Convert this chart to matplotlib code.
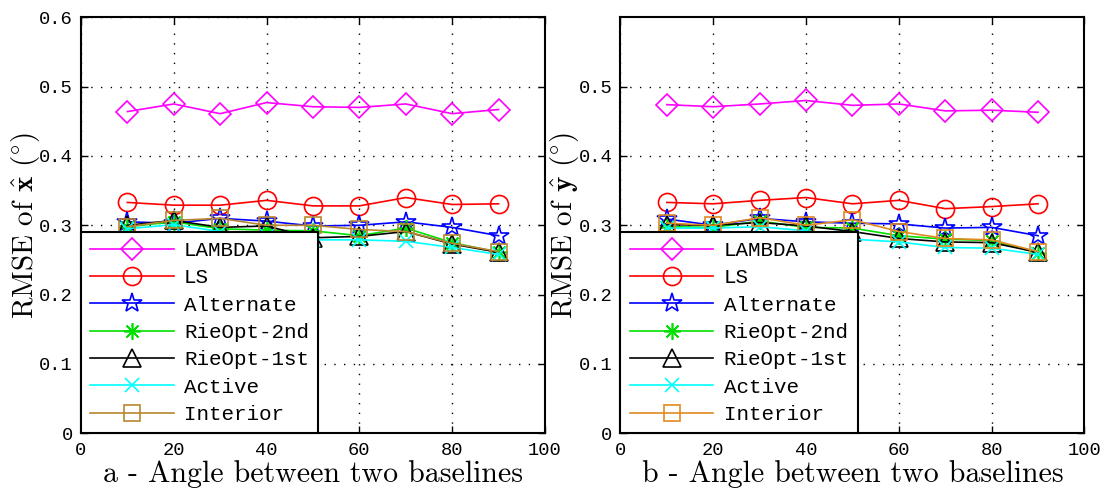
import matplotlib
matplotlib.use('Agg')
import matplotlib.pyplot as plt

plt.rcParams['mathtext.fontset'] = 'cm'

angles = [10, 20, 30, 40, 50, 60, 70, 80, 90]
methods = ['LAMBDA', 'LS', 'Alternate', 'RieOpt-2nd', 'RieOpt-1st', 'Active', 'Interior']

# panel a: RMSE of x-hat
rmse_x = {
    'LAMBDA':     [0.464, 0.475, 0.461, 0.477, 0.471, 0.470, 0.475, 0.461, 0.467],
    'LS':         [0.333, 0.329, 0.329, 0.336, 0.328, 0.328, 0.340, 0.330, 0.331],
    'Alternate':  [0.305, 0.303, 0.310, 0.306, 0.299, 0.300, 0.305, 0.297, 0.285],
    'RieOpt-2nd': [0.298, 0.305, 0.295, 0.293, 0.292, 0.285, 0.296, 0.275, 0.261],
    'RieOpt-1st': [0.300, 0.307, 0.297, 0.299, 0.282, 0.284, 0.291, 0.273, 0.261],
    'Active':     [0.295, 0.301, 0.291, 0.285, 0.279, 0.279, 0.277, 0.268, 0.258],
    'Interior':   [0.298, 0.307, 0.310, 0.300, 0.300, 0.294, 0.291, 0.274, 0.262],
}
# panel b: RMSE of y-hat
rmse_y = {
    'LAMBDA':     [0.474, 0.471, 0.475, 0.480, 0.473, 0.475, 0.465, 0.466, 0.463],
    'LS':         [0.333, 0.331, 0.336, 0.340, 0.331, 0.336, 0.324, 0.327, 0.331],
    'Alternate':  [0.309, 0.300, 0.310, 0.305, 0.303, 0.302, 0.296, 0.297, 0.285],
    'RieOpt-2nd': [0.298, 0.297, 0.306, 0.297, 0.296, 0.285, 0.280, 0.278, 0.260],
    'RieOpt-1st': [0.301, 0.300, 0.304, 0.299, 0.291, 0.281, 0.276, 0.275, 0.261],
    'Active':     [0.296, 0.296, 0.298, 0.292, 0.280, 0.276, 0.268, 0.267, 0.258],
    'Interior':   [0.303, 0.300, 0.311, 0.300, 0.308, 0.291, 0.281, 0.279, 0.262],
}

styles = {
    'LAMBDA':     dict(color='#ff00ff', marker='D', ms=11),
    'LS':         dict(color='#ff0000', marker='o', ms=13),
    'Alternate':  dict(color='#0000ff', marker='*', ms=15),
    'RieOpt-2nd': dict(color='#00e000', marker=(8, 2, 0), ms=12),
    'RieOpt-1st': dict(color='#000000', marker='^', ms=13),
    'Active':     dict(color='#00ffff', marker='x', ms=10),
    'Interior':   dict(color='#b8862f', marker='s', ms=11),
}
interior_b = '#e08a20'

mono = 'Liberation Mono'

fig = plt.figure(figsize=(11.11, 4.91), dpi=100)
ax1 = fig.add_axes([0.0729, 0.1175, 0.4176, 0.8473])
ax2 = fig.add_axes([0.5585, 0.1175, 0.4176, 0.8473])

panels = [(ax1, rmse_x, r'RMSE of $\hat{\mathbf{x}}$ $(^{\circ})$', 'a - Angle between two baselines',
           [0, 0.1, 0.2, 0.3, 0.4, 0.5, 0.6]),
          (ax2, rmse_y, r'RMSE of $\hat{\mathbf{y}}$ $(^{\circ})$', 'b - Angle between two baselines',
           [0, 0.1, 0.2, 0.3, 0.4, 0.5])]

for ax, data, ylab, xlab, yt in panels:
    for m in methods:
        st = dict(styles[m])
        if m == 'Interior' and ax is ax2:
            st['color'] = interior_b
        ax.plot(angles, data[m], color=st['color'], marker=st['marker'], markersize=st['ms'],
                markerfacecolor='none', markeredgecolor=st['color'], markeredgewidth=1.2,
                linewidth=1.2, label=m)
    ax.set_xlim(0, 100)
    ax.set_ylim(0, 0.6)
    ax.set_xticks([0, 20, 40, 60, 80, 100])
    ax.set_yticks(yt)
    ax.set_xticklabels(['0', '20', '40', '60', '80', '100'])
    ax.set_yticklabels(['0' if v == 0 else '%.1f' % v for v in yt])
    ax.tick_params(direction='in', top=True, right=True, length=5, width=1, pad=6,
                   labelsize=13.5)
    for lab in ax.get_xticklabels() + ax.get_yticklabels():
        lab.set_fontfamily(mono)
    ax.grid(True, color='black', linestyle=(0, (1, 6)), linewidth=1)
    for sp in ax.spines.values():
        sp.set_linewidth(1.5)
    ax.set_xlabel(xlab, fontfamily='cmr10', fontsize=21.5, labelpad=1)
    ax.set_ylabel(ylab, fontfamily='cmr10', fontsize=21, labelpad=-2)
    leg = ax.legend(loc='lower left', borderaxespad=0, fancybox=False, framealpha=1,
                    edgecolor='black', prop={'family': mono, 'size': 15},
                    handlelength=4.0, handletextpad=0.5, labelspacing=0.4,
                    borderpad=0.45)
    leg.get_frame().set_linewidth(1.5)

fig.savefig('out.png', dpi=100)
